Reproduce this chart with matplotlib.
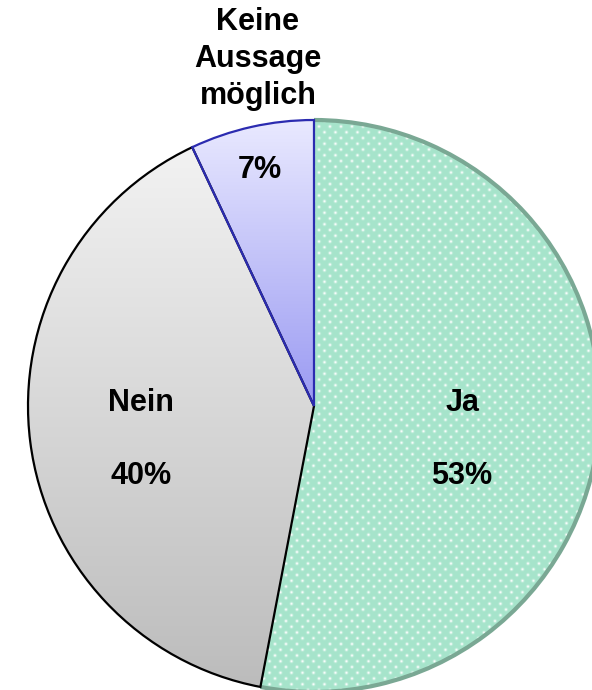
import numpy as np
import matplotlib
matplotlib.use('Agg')
import matplotlib.pyplot as plt
from matplotlib.colors import LinearSegmentedColormap
from matplotlib.patches import Arc

labels = ['Ja', 'Nein', 'Keine\nAussage\nmöglich']
values = [53, 40, 7]
pct_labels = ['53%', '40%', '7%']

W, H = 592, 690
fig = plt.figure(figsize=(W / 100, H / 100), dpi=100)
ax = fig.add_axes([0, 0, 1, 1])
cx, cy_px, R = 314, 406, 286
cy = H - cy_px

wedges, _ = ax.pie(values, startangle=90, counterclock=False,
                   center=(cx, cy), radius=R)

ja, nein, keine = wedges

# --- Ja: mint with white dot texture, green-gray arc edge
ja.set_facecolor('none')
ja.set_linewidth(0)
bb = ja.get_path().get_extents()
x0, x1 = int(np.floor(bb.x0)), int(np.ceil(bb.x1))
y0, y1 = int(np.floor(bb.y0)), int(np.ceil(bb.y1))
nx, ny = x1 - x0, y1 - y0
xs = np.arange(nx) + x0 + 0.5
ys = np.arange(ny) + (H - y1) + 0.5  # pixel rows from top
X, Y = np.meshgrid(xs, ys)
px, py = 11.0, 5.75
row = np.round(Y / py)
off = (row % 2) * (px / 2)
dx = (X - off) - np.round((X - off) / px) * px
dy = Y - row * py
d2 = dx ** 2 + dy ** 2
wgt = 0.95 * np.exp(-d2 / (2 * 1.0 ** 2))
base = np.array([166, 228, 203]) / 255.0
img = base[None, None, :] * (1 - wgt[..., None]) + wgt[..., None] * 1.0
ax.imshow(img, extent=(x0, x1, y0, y1), origin='upper', clip_path=ja,
          interpolation='nearest', zorder=1)
ax.add_patch(Arc((cx, cy), 2 * R, 2 * R, theta1=ja.theta1, theta2=ja.theta2,
                 color='#7aa894', lw=3.0, zorder=2))


def grad_fill(w, top, bottom, z=1):
    w.set_facecolor('none')
    b = w.get_path().get_extents()
    cmap = LinearSegmentedColormap.from_list('g', [bottom, top])
    arr = np.linspace(0, 1, 256).reshape(-1, 1)
    ax.imshow(arr, extent=(b.x0, b.x1, b.y0, b.y1), origin='lower', cmap=cmap,
              aspect='auto', clip_path=w, zorder=z, interpolation='bilinear')


grad_fill(nein, '#f2f2f2', '#bcbcbc')
nein.set_edgecolor('black')
nein.set_linewidth(1.6)
nein.set_zorder(3)

grad_fill(keine, '#e9e9ff', '#9a9af2')
keine.set_edgecolor('#2b2bb0')
keine.set_linewidth(1.6)
keine.set_zorder(4)

tk = dict(fontfamily='Liberation Sans', fontweight='bold', fontsize=22,
          ha='center', va='center', color='black', zorder=6)
ax.text(258, H - 59, labels[2], linespacing=1.3, **tk)
ax.text(260, H - 170, pct_labels[2], **tk)
ax.text(141, H - 403, labels[1], **tk)
ax.text(141, H - 476, pct_labels[1], **tk)
ax.text(463, H - 403, labels[0], **tk)
ax.text(462, H - 476, pct_labels[0], **tk)

ax.set_xlim(0, W)
ax.set_ylim(0, H)
ax.set_aspect('auto')
ax.axis('off')
fig.savefig('out.png', dpi=100)
